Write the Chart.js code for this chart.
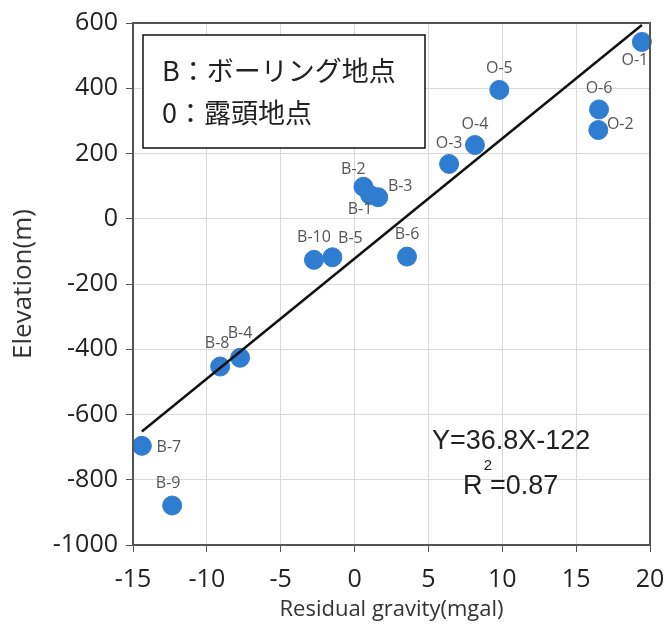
<!DOCTYPE html>
<html><head><meta charset="utf-8">
<script src="https://cdn.jsdelivr.net/npm/chart.js@4/dist/chart.umd.min.js"></script>
<style>html,body{margin:0;padding:0;background:#fff}</style>
</head><body>
<canvas id="c" width="666" height="626"></canvas>
<script>
// ---- data ----
const pointNames = ['O-1','O-5','O-6','O-2','O-4','O-3','B-2','B-1','B-3','B-10','B-5','B-6','B-8','B-4','B-7','B-9'];
const gravity    = [19.45, 9.8, 16.55, 16.5, 8.15, 6.4, 0.6, 1.05, 1.6, -2.75, -1.5, 3.55, -9.1, -7.75, -14.4, -12.35];
const elevation  = [542, 395, 335, 272, 226, 168, 98, 73, 66, -126, -118, -116, -453, -426, -696, -879];
const fitGravity   = [-14.4, 19.45];
const fitElevation = [-652, 594];
const xTicks = [-15, -10, -5, 0, 5, 10, 15, 20];
const yTicks = [-1000, -800, -600, -400, -200, 0, 200, 400, 600];
const legendLines = ['B：ボーリング地点', '0：露頭地点'];
const equationText = 'Y=36.8X-122';
const r2Base = 'R =0.87';
const r2Sup = '2';
const xTitle = 'Residual gravity(mgal)';
const yTitle = 'Elevation(m)';

// label offsets (px) from point centre to label centre
const labelOffsets = {
  'O-1':[-7,19],'O-5':[0,-21],'O-6':[0,-21],'O-2':[22,-6],'O-4':[0,-21],'O-3':[0,-21],
  'B-2':[-10,-17],'B-1':[-10,15],'B-3':[22,-11],'B-10':[0,-22],'B-5':[18,-19],'B-6':[0,-22],
  'B-8':[-3,-23],'B-4':[0,-24],'B-7':[27,2],'B-9':[-4,-22]
};

const pts = gravity.map((g, i) => ({x: g, y: elevation[i], name: pointNames[i]}));
const fitPts = fitGravity.map((g, i) => ({x: g, y: fitElevation[i]}));

const overlay = {
  id: 'overlay',
  afterDatasetsDraw(chart) {
    const {ctx, scales: {x, y}} = chart;
    ctx.save();
    ctx.font = '16px "Open Sans"';
    ctx.fillStyle = '#555';
    ctx.textAlign = 'center';
    ctx.textBaseline = 'middle';
    pts.forEach(p => {
      const o = labelOffsets[p.name] || [0, -20];
      ctx.fillText(p.name, x.getPixelForValue(p.x) + o[0], y.getPixelForValue(p.y) + o[1]);
    });
    ctx.restore();
  },
  afterDraw(chart) {
    const {ctx, chartArea: a, scales: {x, y}} = chart;
    ctx.save();
    // frame
    ctx.strokeStyle = '#555';
    ctx.lineWidth = 2;
    ctx.strokeRect(a.left, a.top, a.right - a.left, a.bottom - a.top);
    // legend box
    ctx.fillStyle = '#fff';
    ctx.fillRect(143, 35, 282, 113);
    ctx.strokeStyle = '#111';
    ctx.lineWidth = 1.5;
    ctx.strokeRect(143, 35, 282, 113);
    ctx.fillStyle = '#222';
    ctx.font = '27px "Noto Sans CJK JP"';
    ctx.textAlign = 'left';
    ctx.textBaseline = 'middle';
    ctx.fillText(legendLines[0], 162, 71);
    ctx.fillText(legendLines[1], 162, 113);
    // equation
    ctx.font = '27px "Liberation Sans"';
    ctx.textAlign = 'center';
    ctx.fillText(equationText, x.getPixelForValue(10.6), y.getPixelForValue(-684));
    ctx.textAlign = 'left';
    ctx.fillText(r2Base, x.getPixelForValue(7.34), y.getPixelForValue(-822));
    ctx.font = '15px "Liberation Sans"';
    ctx.textAlign = 'center';
    ctx.fillText(r2Sup, x.getPixelForValue(9.03), y.getPixelForValue(-758));
    ctx.restore();
  }
};

new Chart(document.getElementById('c'), {
  type: 'scatter',
  data: {
    datasets: [
      {
        type: 'line', data: fitPts, borderColor: '#111', borderWidth: 2.5,
        pointRadius: 0, fill: false, order: 0
      },
      {
        data: pts, backgroundColor: '#2F7DD1', borderColor: '#2F7DD1',
        pointRadius: 9.5, pointHoverRadius: 9.5, order: 1, clip: false
      }
    ]
  },
  options: {
    responsive: false,
    devicePixelRatio: 1,
    animation: false,
    events: [],
    layout: {padding: {top: 23, right: 16, left: 0, bottom: 0}},
    plugins: {legend: {display: false}, tooltip: {enabled: false}},
    scales: {
      x: {
        type: 'linear', min: -15, max: 20,
        afterBuildTicks: s => { s.ticks = xTicks.map(v => ({value: v})); },
        afterFit: s => { s.height = 81; s.paddingRight = 0; s.paddingLeft = 0; },
        ticks: {font: {family: 'Open Sans', size: 25}, color: '#222', padding: 13, callback: v => String(v)},
        grid: {color: '#d9d9d9', lineWidth: 1, tickColor: '#555', tickLength: 7},
        border: {color: '#555', width: 2},
        title: {display: true, text: xTitle, font: {family: 'Open Sans', size: 22}, color: '#333', padding: {top: 0, bottom: 3}}
      },
      y: {
        type: 'linear', min: -1000, max: 600,
        afterBuildTicks: s => { s.ticks = yTicks.map(v => ({value: v})); },
        afterFit: s => { s.width = 133; s.paddingTop = 0; s.paddingBottom = 0; },
        ticks: {font: {family: 'Open Sans', size: 25}, color: '#222', padding: 8, callback: v => String(v)},
        grid: {color: '#d9d9d9', lineWidth: 1, tickColor: '#555', tickLength: 7},
        border: {color: '#555', width: 2},
        title: {display: true, text: yTitle, font: {family: 'Open Sans', size: 26}, color: '#333', padding: {top: 8, bottom: 0}}
      }
    }
  },
  plugins: [overlay]
});
</script>
</body></html>
